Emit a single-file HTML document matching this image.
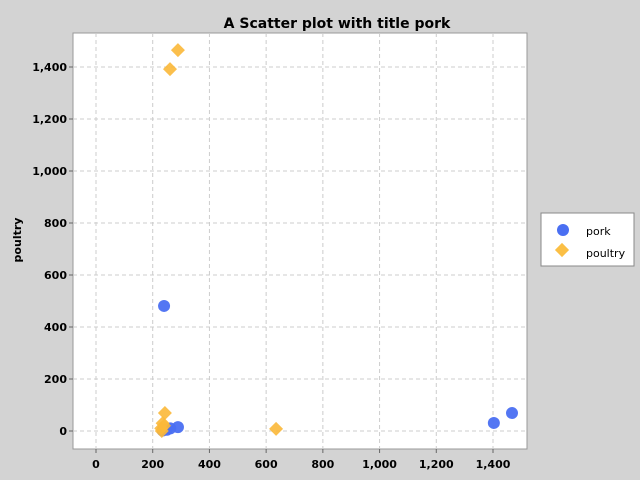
<!DOCTYPE html>
<html><head><meta charset="utf-8"><style>
html,body{margin:0;background:#d3d3d3;width:640px;height:480px;overflow:hidden;font-family:"DejaVu Sans","Liberation Sans",sans-serif}
svg{display:block}
</style></head><body>
<svg width="640" height="480" id="c">
<text x="337" y="28" text-anchor="middle" font-weight="bold" font-size="14">A Scatter plot with title pork</text>
<rect x="73" y="33" width="454" height="416" fill="#fff" stroke="#999"/>
<g id="grid"></g><g id="ticks"></g><g id="marks"></g>
<text transform="translate(21,240) rotate(-90)" text-anchor="middle" font-weight="bold" font-size="11">poultry</text>
<g>
<rect x="541" y="213" width="93" height="53" fill="#fff" stroke="#888"/>
<circle cx="563" cy="230" r="6" fill="#4a6ff2"/>
<text x="586" y="235" font-size="11">pork</text>
<rect x="557" y="245" width="10" height="10" fill="#fbbf45" transform="rotate(45 562 250)"/>
<text x="586" y="257" font-size="11">poultry</text>
</g>
</svg>
<script>
const xTicks=[0,200,400,600,800,1000,1200,1400];
const yTicks=[0,200,400,600,800,1000,1200,1400];
const porkX=[240,289,1403,1467,235,250,262];
const porkY=[481,15,31,69,2,5,10];
const poultryX=[261,289,635,243,235,230,232,240];
const poultryY=[1392,1465,8,69,30,10,0,20];
const sx=v=>96+v*397/1400, sy=v=>431-v*364/1400;
const NS="http://www.w3.org/2000/svg";
function mk(t,a,p){const e=document.createElementNS(NS,t);for(const k in a)e.setAttribute(k,a[k]);document.getElementById(p).appendChild(e);return e;}
const fmt=v=>v.toLocaleString('en-US');
xTicks.forEach(v=>{
 const l=mk('line',{x1:sx(v),x2:sx(v),y1:33,y2:449,stroke:'#ccc','stroke-dasharray':'4,3'},'grid');
 
 
 mk('line',{x1:sx(v),x2:sx(v),y1:449,y2:453,stroke:'#666'},'ticks');
 const t=mk('text',{x:sx(v),y:468,'text-anchor':'middle','font-size':'11','font-weight':'bold'},'ticks');t.textContent=fmt(v);
 
 
});
yTicks.forEach(v=>{
 const l=mk('line',{x1:73,x2:527,y1:sy(v),y2:sy(v),stroke:'#ccc','stroke-dasharray':'4,3'},'grid');
 
 
 mk('line',{x1:69,x2:73,y1:sy(v),y2:sy(v),stroke:'#666'},'ticks');
 const t=mk('text',{x:67,y:sy(v)+4,'text-anchor':'end','font-size':'11','font-weight':'bold'},'ticks');t.textContent=fmt(v);
 
 
});
porkX.forEach((x,i)=>{
 const c=mk('circle',{cx:sx(x),cy:sy(porkY[i]),r:6,fill:'#4a6ff2','fill-opacity':0.95},'marks');
 
 
});
poultryX.forEach((x,i)=>{
 const X=sx(x),Y=sy(poultryY[i]);
 const p=mk('polygon',{points:`${X},${Y-7} ${X+7},${Y} ${X},${Y+7} ${X-7},${Y}`,fill:'#fbb838','fill-opacity':0.9},'marks');
 
 
});
</script>
</body></html>
